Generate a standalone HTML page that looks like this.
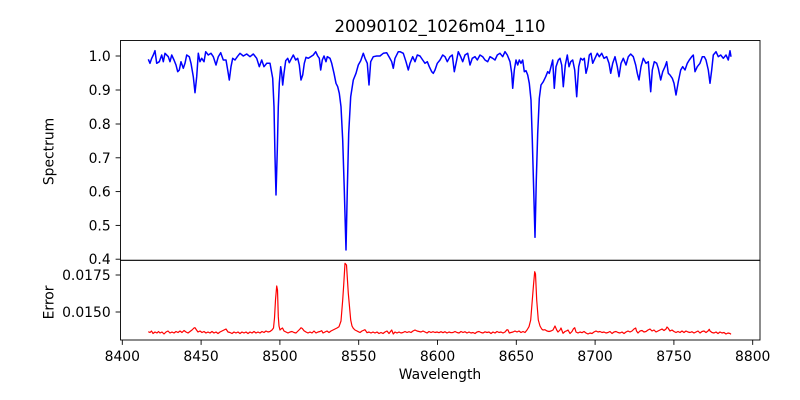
<!DOCTYPE html>
<html><head><meta charset="utf-8"><style>
html,body{margin:0;padding:0;background:#fff;}
svg{display:block;}
text{font-family:"DejaVu Sans","Liberation Sans",sans-serif;fill:#000;}
</style></head><body>
<svg width="800" height="400" viewBox="0 0 800 400" xmlns="http://www.w3.org/2000/svg">
<rect x="0" y="0" width="800" height="400" fill="#fff"/>
<text x="440" y="32" font-size="16.5" text-anchor="middle">20090102_1026m04_110</text>

<!-- spectrum -->
<polyline fill="none" stroke="#0000ff" stroke-width="1.5" stroke-linejoin="round" points="148.3,59.3 150,63.3 151.7,58.3 153.3,55 155,50.7 156.7,63.3 159.3,61.7 161.7,55 163.3,61.7 165,53.3 168.3,56.7 170,61.7 171.7,55 174,60 176,65 177.7,71.7 179.3,70 181,61.7 183.3,68.3 185,63.3 186.7,55 189.3,56.7 191,63.3 193.3,76.7 195,92.7 196.7,76.7 198.3,53.3 200,61.7 201.7,58.3 204,61.7 205.7,51.7 208.3,55 211,53.3 213.3,56.7 216,65 218.3,56.7 220.7,52.7 223.3,60 226,60 227.7,70 229.3,80 231,66.7 232.7,58.3 235,60 237.3,56.7 240,53.3 243.3,56 246.7,54 250,56.7 253.3,54 256.7,58.3 259.3,66.7 261.7,60 264,66.7 266.7,63.3 270,63.3 272.7,78.3 274,106.7 275,156.7 276,195 277.3,150 278.3,106.7 279.3,83.3 280.7,66.7 281.7,73.3 282.7,85 284,73.3 285.7,60.7 287.7,58.3 289.3,62.7 291,59.3 293.3,55 295.7,60 297.7,58.3 299.3,65 301,80 302.7,75 304.3,63.3 306,57.3 308.3,58.3 310.7,56.7 313.3,55 315.7,51.7 317.7,56 319.3,58.3 320.7,70 322.3,60 324,56 326,61.7 327.3,56.7 330,58.3 331.7,63.3 334,73.3 336,83.3 337.7,86.7 339.3,93.3 341,106.7 342.7,140 344.3,190 346,250 347.3,190 348.7,133.3 350.7,96.7 353.3,80 356,73.3 358.3,65 360.7,60.7 363.3,53.3 365,58.3 367.3,63.3 369,85 370.7,61.7 373.3,56.7 376.7,56 380,56 383.3,53.3 386.7,52.7 389.3,57.3 391.7,61.7 393.3,68.3 395,58.3 398.3,51.7 400,51.7 403.3,53.3 406,61.7 408.3,70 410,63.3 412.7,56.7 415,61.7 417.3,55 420,56 422.7,60 425,63.3 427.3,61.7 429.3,66.7 431.7,71.7 433.3,73.3 435,70 437.3,63.3 440,60 442.7,55 445,56.7 447.3,61.7 450,56.7 452.3,55 454.3,71.7 456.7,60 458.3,51.7 460.7,56.7 462.7,61.7 465,55 467.7,53.3 470,65 472.3,58.3 475,56.7 477.3,60 480,55 482.7,56.7 485,60 487.7,61.7 490,56.7 492.7,58.3 495,60 497.3,55 500,53.3 502.7,56.7 505,51.7 507.3,55 510,61.7 511.7,73.3 512.7,88.3 514.3,70 516,60 517.7,65 519.3,60 521,63.3 522.7,60 524.3,71.7 526,70.7 527.7,75 529.3,83.3 531,100 532.3,140 533.7,190 535,237.3 536.3,180 537.7,133.3 539.3,98.3 541,85 543.3,81.7 545.7,76.7 547.7,71.7 549.3,73.3 551,66.7 552.7,60 554.3,88.3 556,66.7 558.3,60 560,58.3 561.7,65 563.3,86.7 565.3,65 567.3,55 569,66.7 570.7,61.7 572.7,60 574.7,70 576.7,96.7 578.7,66.7 580.7,58.3 582.7,60 584.3,58.3 586,73.3 587.7,66.7 589.3,55 591,53.3 592.7,63.3 595,58.3 597.3,53.3 599.3,56.7 601.7,53.3 604,58.3 606.7,56.7 609,63.3 610.7,73.3 612.7,63.3 615,56.7 617.3,66.7 619,76.7 621,63.3 623.3,58.3 626,65 628.3,56.7 630.7,54 633.3,56.7 635.7,65 637.3,73.3 639,80 641,66.7 643.3,58.3 646,63.3 648.3,61.7 650.7,91.7 652.3,70 654.3,61.7 656.7,63.3 658.3,68.3 660.7,80 662.7,71.7 665,66.7 666.7,61.7 668.3,73.3 670,75 672.3,78.3 674,83.3 676,95 678.3,81.7 680.7,70 682.7,66.7 685,70 687.3,63.3 689.3,60 691.7,56.7 693.3,55 695,71.7 697.3,66.7 700,63.3 702.3,56.7 704.3,56.7 706,60 708.3,70 710,83.3 711.7,70 713.3,55 716,51.7 718.3,56.7 720.7,55 723.3,58.3 726,55 728.3,60 730,50.7 731,56.7"/>

<!-- error -->
<polyline fill="none" stroke="#ff0000" stroke-width="1.2" stroke-linejoin="round" points="148.3,331.7 150,332.5 151.5,331 153,333.5 155,332 157,333 158.5,331.5 160,333 162,332 164,334 166,332 168,331 170,333 172,332 174,333 176,331.5 178,332.5 180,331 182,332.5 184,330.5 186,332 188,333 190,331.5 192,330 194,328 195,327.7 196.5,330 198,332 200,331 202,332.5 204,331.5 206,333 208,332 210,333 212,331.5 214,333 216,332 218,333.5 220,332 222,331 224,330 226,329 228,332 230,332.5 232,333.5 234,332 236,333 238,332 240,333.5 242,332 244,333 246,332 248,333.5 250,332 252,333 254,331.5 256,333 258,332 260,333 262,331.5 264,332.5 266,331 268,332 270,331.5 272,330 273.5,328 274.5,318 275.5,300 276.7,286 277.5,290 278.3,316.7 279,326 280,330 281,329 282.5,328 284,331 286,332 288,333 290,332 292,331.5 294,332.5 296,333 298,331 300,329 301,327.7 302.3,328.5 304,330.7 306,332 308,333 310,332 312,333 314,331 316,333 318,332 320,331.5 321.7,330.7 323,333 325,332 327,331 329,332.5 331,331 333,330 335,329 337,328 339,326.7 341,321 342.7,300 343.7,285 345,263.3 346.5,265 348.3,293.3 350.7,320 352,326 353.3,328.3 355,330 357,331 358.3,331.7 360,332.5 362,331 365,329.7 367,332.7 369,332 371,333 373,332 375,333 377,332 379,333.5 381,332.5 383,333.5 385,332 387,331 389,333.5 391.7,330 393.3,334 395,332 397,333 399,332 401,333 403,332.5 405,331.5 407,332.5 409,331.7 411,332.5 413,331 415,330 417,331 419,331.5 421,332 423,331 425,332 427,333 429,331.5 431,332.5 433,331.7 435,332.5 437,332 439,332.7 441,331.7 443,332.7 445,331.7 447,333 449,332 451,332.7 453,332.5 455,331.5 457,332.5 459,333 461,331.5 463,332.5 465,331.7 467,333 469,332 471,333 473,332.5 475,333.5 477,332 479,331.5 481,332.5 483,333 485,331.8 487,332.5 489,332 491,333.5 493,332 495,333 497,331.5 499,332.5 501,332 503,333 505,332 507,329.7 508,330 509.3,333 511,332.5 513,332 515,331 517,332 519,331 521,332.5 523,331.5 525,332.5 527,330 529,326.7 530.7,320 532.3,300 533.5,285 534.7,271.7 535.5,274 536.7,300 538.3,320 540,326 541.7,329 543,330 545,329.7 547,331 549,331.5 551,331 553,330 555,326 556.7,330 558,332 560,330 561,328 563,333.3 565,331.5 567,330.7 568,330 570,333.5 572,331.5 573.3,329 574.7,327.7 576,332 578,333 580,332 582,332.7 584,331.5 586,333 588,334 590,333 592,333.5 594,332 596,331 598,332 600,331.5 602,332.5 604,332 606,333 608,332.5 610,331.5 612,333.5 614,332 616,331.5 618,332.5 620,333 622,332 624,333.5 626,332 628,331 630,332 632,331 634,329 635.7,328 636.5,331 638,333 640,331 642,330.5 644,332 646,331.5 648,330 650,329 652,331 654,330 656,332 658,331 660,330 662,329 664,330.5 666,329 667,327 668,328 670,331 672,330 674,331.5 676,332.5 678,331.5 680,332.5 682,331 684,332.5 686,331 688,332 690,332.5 692,331.7 694,333 696,332 698,331 700,333 702,331.5 704,331 706,332.5 708,331 709.3,329.3 710,331 712,332.5 714,333 716,332 718,333.5 720,332 722,333 724,332.5 726,334 728,333 730,333.5 731,334.3"/>

<!-- frames -->
<rect x="120.5" y="40.5" width="639.5" height="219.8" fill="none" stroke="#000" stroke-width="0.9"/>
<rect x="120.5" y="260.3" width="639.5" height="79.7" fill="none" stroke="#000" stroke-width="0.9"/>

<g stroke="#000" stroke-width="0.9">
<line x1="115.6" y1="56" x2="120.5" y2="56"/>
<line x1="115.6" y1="90" x2="120.5" y2="90"/>
<line x1="115.6" y1="124" x2="120.5" y2="124"/>
<line x1="115.6" y1="157.8" x2="120.5" y2="157.8"/>
<line x1="115.6" y1="191.6" x2="120.5" y2="191.6"/>
<line x1="115.6" y1="225.4" x2="120.5" y2="225.4"/>
<line x1="115.6" y1="259.2" x2="120.5" y2="259.2"/>
<line x1="115.6" y1="275" x2="120.5" y2="275"/>
<line x1="115.6" y1="312" x2="120.5" y2="312"/>
<line x1="122.3" y1="340" x2="122.3" y2="344.9"/>
<line x1="201.1" y1="340" x2="201.1" y2="344.9"/>
<line x1="279.9" y1="340" x2="279.9" y2="344.9"/>
<line x1="358.7" y1="340" x2="358.7" y2="344.9"/>
<line x1="437.5" y1="340" x2="437.5" y2="344.9"/>
<line x1="516.3" y1="340" x2="516.3" y2="344.9"/>
<line x1="595.1" y1="340" x2="595.1" y2="344.9"/>
<line x1="673.9" y1="340" x2="673.9" y2="344.9"/>
<line x1="752.7" y1="340" x2="752.7" y2="344.9"/>
</g>
<g font-size="13.9" text-anchor="end">
<text x="110.7" y="61">1.0</text>
<text x="110.7" y="95">0.9</text>
<text x="110.7" y="129">0.8</text>
<text x="110.7" y="162.8">0.7</text>
<text x="110.7" y="196.6">0.6</text>
<text x="110.7" y="230.4">0.5</text>
<text x="110.7" y="264.2">0.4</text>
<text x="110.7" y="280">0.0175</text>
<text x="110.7" y="317">0.0150</text>
</g>
<g font-size="13.9" text-anchor="middle">
<text x="122.3" y="361">8400</text>
<text x="201.1" y="361">8450</text>
<text x="279.9" y="361">8500</text>
<text x="358.7" y="361">8550</text>
<text x="437.5" y="361">8600</text>
<text x="516.3" y="361">8650</text>
<text x="595.1" y="361">8700</text>
<text x="673.9" y="361">8750</text>
<text x="752.7" y="361">8800</text>
<text x="440" y="379">Wavelength</text>
<text transform="translate(53.5,151.5) rotate(-90)">Spectrum</text>
<text transform="translate(53.5,302.5) rotate(-90)">Error</text>
</g>
</svg>
</body></html>
